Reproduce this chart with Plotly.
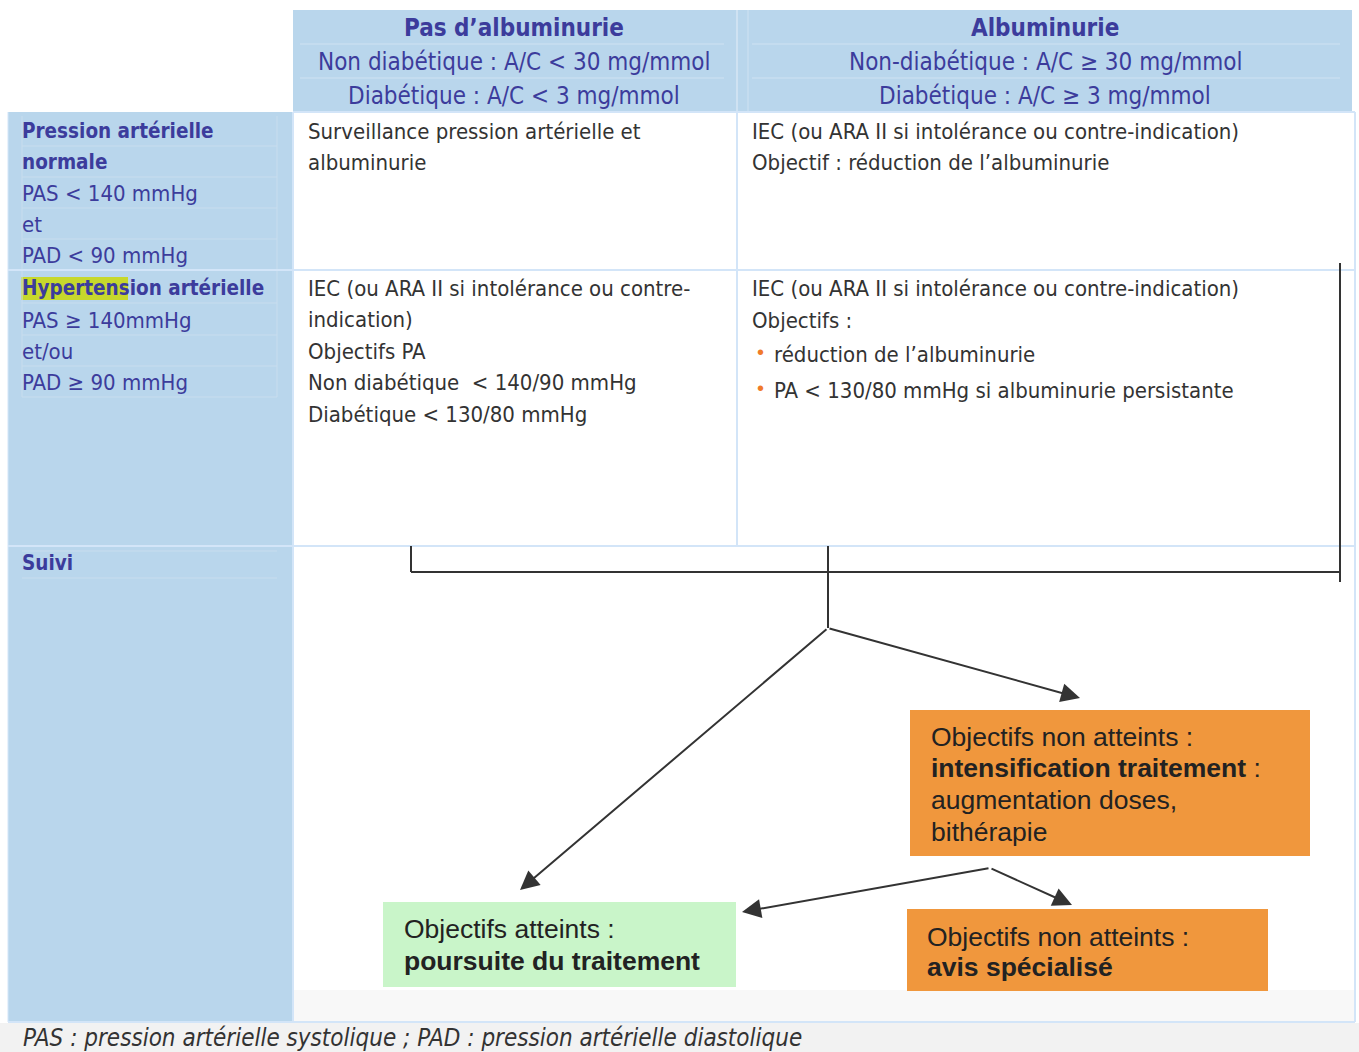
import plotly.graph_objects as go

W, H = 1359, 1052

# ---- text content ----
header_col1 = ["Pas d\u2019albuminurie", "Non diab\u00e9tique : A/C < 30 mg/mmol", "Diab\u00e9tique : A/C < 3 mg/mmol"]
header_col2 = ["Albuminurie", "Non-diab\u00e9tique : A/C \u2265 30 mg/mmol", "Diab\u00e9tique : A/C \u2265 3 mg/mmol"]
left_labels = ["Pression art\u00e9rielle", "normale", "PAS < 140 mmHg", "et", "PAD < 90 mmHg",
               "Hypertension art\u00e9rielle", "PAS \u2265 140mmHg", "et/ou", "PAD \u2265 90 mmHg"]
left_bold = [True, True, False, False, False, True, False, False, False]
suivi_label = "Suivi"
cell_r1c1 = ["Surveillance pression art\u00e9rielle et", "albuminurie"]
cell_r1c2 = ["IEC (ou ARA II si intol\u00e9rance ou contre-indication)", "Objectif : r\u00e9duction de l\u2019albuminurie"]
cell_r2c1 = ["IEC (ou ARA II si intol\u00e9rance ou contre-", "indication)", "Objectifs PA",
             "Non diab\u00e9tique  < 140/90 mmHg", "Diab\u00e9tique < 130/80 mmHg"]
cell_r2c2 = ["IEC (ou ARA II si intol\u00e9rance ou contre-indication)", "Objectifs :"]
cell_r2c2_bullets = ["r\u00e9duction de l\u2019albuminurie", "PA < 130/80 mmHg si albuminurie persistante"]
box_intens = [("Objectifs non atteints :", False), ("intensification traitement", True),
              ("augmentation doses,", False), ("bith\u00e9rapie", False)]
box_avis = [("Objectifs non atteints :", False), ("avis sp\u00e9cialis\u00e9", True)]
box_ok = [("Objectifs atteints :", False), ("poursuite du traitement", True)]
footnote = "PAS : pression art\u00e9rielle systolique ; PAD : pression art\u00e9rielle diastolique"

NARROW = "Liberation Sans Narrow, Arial Narrow, DejaVu Sans Condensed, sans-serif"
BOXF = "Liberation Sans, Arial, sans-serif"
BLUE_FILL = "#B9D6EC"
GRID = "#D3E5F8"
HEAD_TXT = "#3C3C9C"
BODY_TXT = "#333333"
ORANGE = "#F0973D"
GREEN = "#C9F5C9"
LINE = "#333333"

fig = go.Figure()
fig.add_trace(go.Scatter(x=[0, W], y=[0, H], mode="markers", marker=dict(opacity=0), hoverinfo="skip", showlegend=False))

shapes = []
def rect(x0, y0, x1, y1, fill, line=None, lw=0, layer="below"):
    shapes.append(dict(type="rect", x0=x0, y0=y0, x1=x1, y1=y1, xref="x", yref="y",
                       fillcolor=fill, line=dict(color=line or fill, width=lw), layer=layer))
def line(x0, y0, x1, y1, color, width):
    shapes.append(dict(type="line", x0=x0, y0=y0, x1=x1, y1=y1, xref="x", yref="y",
                       line=dict(color=color, width=width), layer="above"))

# backgrounds
rect(293, 10, 1352, 112, BLUE_FILL)
rect(8, 112, 293, 1022, BLUE_FILL)
rect(293, 990, 1355, 1022, "#F8F8F8")
rect(0, 1023, W, H, "#F2F2F2")
# header inner lines
for yy in (44, 78):
    line(300, yy, 724, yy, "#CFE2F2", 1)
    line(752, yy, 1340, yy, "#CFE2F2", 1)
line(737, 10, 737, 112, "#CFE2F2", 2)
line(748, 10, 748, 112, "#CFE2F2", 1)
# left-column faint lines
for yy in (146, 177, 208, 239, 303, 335, 366, 397, 551, 578):
    line(22, yy, 277, yy, "#C8DDEE", 1)
line(22, 116, 22, 397, "#C8DDEE", 1)
line(277, 116, 277, 397, "#C8DDEE", 1)
# grid of cells
line(293, 112, 1355, 112, GRID, 2)
line(8, 270, 1355, 270, GRID, 2)
line(8, 546, 1355, 546, GRID, 2)
line(737, 112, 737, 546, GRID, 2)
line(1355, 112, 1355, 1022, GRID, 2)
line(293, 112, 293, 1022, GRID, 2)
line(8, 1022, 1355, 1022, GRID, 2)
line(8, 112, 8, 1022, GRID, 1)
# highlight
rect(21, 277, 128, 300, "#C7D82C")
# flow boxes
rect(910, 710, 1310, 856, ORANGE, layer="above")
rect(907, 909, 1268, 991, ORANGE, layer="above")
rect(383, 902, 736, 987, GREEN, layer="above")
# connector lines
line(411, 546, 411, 572, LINE, 2)
line(411, 572, 1340, 572, LINE, 2)
line(1340, 263, 1340, 582, LINE, 2)
line(828, 546, 828, 628, LINE, 2)

ann = []
def text(x, y, s, size, color, family, bold=False, xanchor="left", italic=False):
    if bold:
        s = "<b>" + s + "</b>"
    if italic:
        s = "<i>" + s + "</i>"
    ann.append(dict(x=x, y=y, xref="x", yref="y", text=s, showarrow=False, xanchor=xanchor,
                    yanchor="middle", font=dict(size=size, color=color, family=family)))

# headers
hy = [28, 62, 96]
for i, s in enumerate(header_col1):
    text(514, hy[i], s, 24, HEAD_TXT, NARROW, bold=(i == 0), xanchor="center")
for i, s in enumerate(header_col2):
    text(1045, hy[i], s, 24, HEAD_TXT, NARROW, bold=(i == 0), xanchor="center")
# left column
ly = [131, 162, 193, 224, 255, 288, 320, 351, 382]
for s, b, yy in zip(left_labels, left_bold, ly):
    text(20, yy, s, 20.5 if b else 22, HEAD_TXT, NARROW, bold=b)
text(20, 563, suivi_label, 20.5, HEAD_TXT, NARROW, bold=True)
# body cells
for i, s in enumerate(cell_r1c1):
    text(306, 131 + 31 * i, s, 22, BODY_TXT, NARROW)
for i, s in enumerate(cell_r1c2):
    text(750, 131 + 31 * i, s, 22, BODY_TXT, NARROW)
for i, s in enumerate(cell_r2c1):
    text(306, 288 + 31.5 * i, s, 22, BODY_TXT, NARROW)
for i, s in enumerate(cell_r2c2):
    text(750, 288 + 32 * i, s, 22, BODY_TXT, NARROW)
for i, s in enumerate(cell_r2c2_bullets):
    yy = 354 + 36 * i
    text(755, yy - 2, "\u2022", 20, "#F07A2A", "Liberation Sans")
    text(772, yy, s, 22, BODY_TXT, NARROW)
# flow boxes text
for i, (s, b) in enumerate(box_intens):
    t = s
    if b:
        t = "<b>" + s + "</b> :"
    text(929, 737 + 32 * i - (1 if i > 0 else 0), t, 26.5, "#222222", BOXF)
for i, (s, b) in enumerate(box_avis):
    text(925, 937 + 30 * i, s, 26.5, "#222222", BOXF, bold=b)
for i, (s, b) in enumerate(box_ok):
    text(402, 929 + 32 * i, s, 26.5, "#222222", BOXF, bold=b)
# footnote
text(21, 1038, footnote, 24, "#333333", NARROW, italic=True)

# arrows
arrows = [((828, 628), (520, 890)), ((828, 628), (1080, 698)),
          ((990, 868), (742, 912)), ((990, 868), (1072, 905))]
for (tx, ty), (hx, hy2) in arrows:
    ann.append(dict(x=hx, y=hy2, ax=tx, ay=ty, xref="x", yref="y", axref="x", ayref="y",
                    showarrow=True, arrowhead=2, arrowsize=1.9, arrowwidth=2, arrowcolor=LINE,
                    standoff=0, text=""))

fig.update_layout(
    width=W, height=H, margin=dict(l=0, r=0, t=0, b=0),
    paper_bgcolor="white", plot_bgcolor="white",
    xaxis=dict(range=[0, W], visible=False, fixedrange=True),
    yaxis=dict(range=[H, 0], visible=False, fixedrange=True),
    shapes=shapes, annotations=ann, showlegend=False,
)
fig.write_html("out.html", post_script="document.body.style.margin='0';", config={"displayModeBar": False})
